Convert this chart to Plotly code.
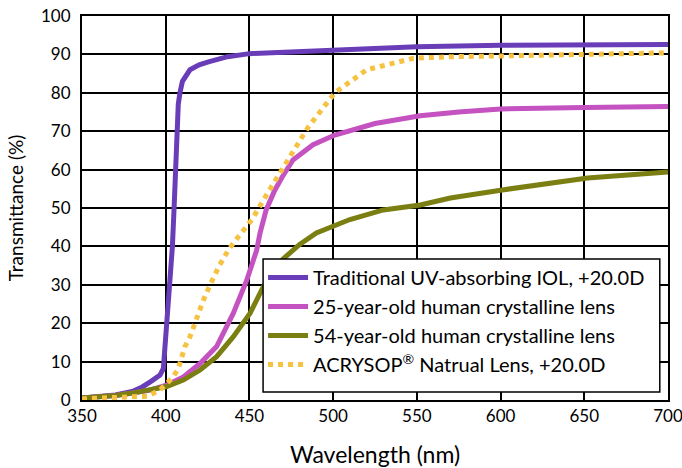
import plotly.graph_objects as go

# Traditional UV-absorbing IOL, +20.0D
wl_uv = [350, 360, 370, 380, 386, 391, 394, 396.6, 398.6, 400.6, 402.6, 404, 405, 405.7, 406.3, 407.5, 408.5, 410, 414.5, 420, 425, 437, 450, 475, 500, 550, 600, 650, 700]
tr_uv = [0.5, 0.8, 1.3, 2.2, 3.4, 4.8, 5.6, 6.5, 8.2, 20, 31, 40, 50, 60, 70, 77, 80, 83, 86, 87.3, 88, 89.4, 90.2, 90.7, 91.2, 92, 92.4, 92.5, 92.6]

# 25-year-old human crystalline lens
wl_25 = [350, 360, 370, 380, 390, 400, 410.5, 420.5, 430.4, 440.4, 448.4, 454.3, 456.3, 460, 465, 469.5, 476, 488, 501, 525, 552, 575, 600, 650, 700]
tr_25 = [0.5, 0.8, 1.2, 1.8, 2.5, 3.8, 6, 9.5, 13.9, 22.6, 31.2, 39, 43.4, 49.5, 54.5, 58, 62.5, 66.5, 69, 72, 74, 75, 75.8, 76.2, 76.4]

# 54-year-old human crystalline lens
wl_54 = [350, 360, 370, 380, 390.6, 400.6, 410.5, 420.5, 430.4, 440.4, 450.4, 458.3, 470, 480, 490, 510, 530, 552, 570, 601, 652, 700]
tr_54 = [0.5, 0.8, 1.2, 1.8, 2.6, 3.5, 5.2, 7.8, 11.3, 16.5, 22.6, 29.5, 36.7, 40.5, 43.5, 47, 49.5, 50.8, 52.6, 54.7, 57.8, 59.4]

# ACRYSOF Natural Lens, +20.0D
wl_ac = [350, 360, 370, 380, 389, 396.6, 400.6, 404.5, 407.5, 409.6, 411.5, 414.5, 416.5, 419.5, 422.5, 426.5, 432, 438, 451.5, 461, 471, 485, 501, 520, 548, 570, 600, 650, 700]
tr_ac = [0.3, 0.4, 0.5, 0.7, 1, 2.6, 4.3, 6, 8.2, 10.8, 13.9, 16.5, 19, 22, 26, 30, 35, 39.5, 47, 54, 61, 71, 80, 86, 89, 89.4, 89.6, 90, 90.4]

x_ticks = [350, 400, 450, 500, 550, 600, 650, 700]
y_ticks = [0, 10, 20, 30, 40, 50, 60, 70, 80, 90, 100]

FONT = "Lato"

fig = go.Figure()
fig.add_trace(go.Scatter(x=wl_uv, y=tr_uv, mode="lines", name="Traditional UV-absorbing IOL, +20.0D",
                         line=dict(color="#6a3db8", width=5)))
fig.add_trace(go.Scatter(x=wl_25, y=tr_25, mode="lines", name="25-year-old human crystalline lens",
                         line=dict(color="#c452c0", width=5)))
fig.add_trace(go.Scatter(x=wl_54, y=tr_54, mode="lines", name="54-year-old human crystalline lens",
                         line=dict(color="#7b7f12", width=5)))
fig.add_trace(go.Scatter(x=wl_ac, y=tr_ac, mode="lines", name="ACRYSOP<sup>®</sup> Natrual Lens, +20.0D",
                         line=dict(color="#f5c242", width=5, dash="5px,5px")))

# legend frame drawn as a white box above the traces
fig.add_shape(type="rect", xref="paper", yref="paper",
              x0=0.309, x1=0.986, y0=0.021, y1=0.367,
              fillcolor="white", line=dict(color="black", width=1.5), layer="above")

fig.update_layout(
    width=682, height=468,
    margin=dict(l=82, r=14, t=16, b=68),
    paper_bgcolor="white", plot_bgcolor="white",
    font=dict(family=FONT, size=17, color="black"),
    showlegend=True,
    legend=dict(x=0.309, y=0.370, xanchor="left", yanchor="top",
                bgcolor="rgba(0,0,0,0)", borderwidth=0,
                font=dict(family=FONT, size=20, color="black"),
                itemwidth=40, traceorder="normal"),
    xaxis=dict(range=[350, 700], tickvals=x_ticks, ticktext=[str(v) for v in x_ticks],
               showgrid=True, gridcolor="black", gridwidth=2,
               showline=True, linecolor="black", linewidth=2, mirror=True,
               zeroline=False, ticks="", ticklabelstandoff=0, automargin=False,
               ticklabeloverflow="allow",
               tickfont=dict(family=FONT, size=17),
               title=dict(text="Wavelength (nm)", font=dict(family=FONT, size=23), standoff=23)),
    yaxis=dict(range=[0, 100], tickvals=y_ticks, ticktext=[str(v) for v in y_ticks],
               showgrid=True, gridcolor="black", gridwidth=2,
               showline=True, linecolor="black", linewidth=2, mirror=True,
               zeroline=False, ticks="", ticklabelstandoff=6, automargin=False,
               ticklabeloverflow="allow",
               tickfont=dict(family=FONT, size=17),
               title=dict(text="Transmittance (%)", font=dict(family=FONT, size=19), standoff=12)),
)

fig.write_html("out.html", config={"displayModeBar": False},
               post_script="document.body.style.margin='0';document.body.style.overflow='hidden';")
